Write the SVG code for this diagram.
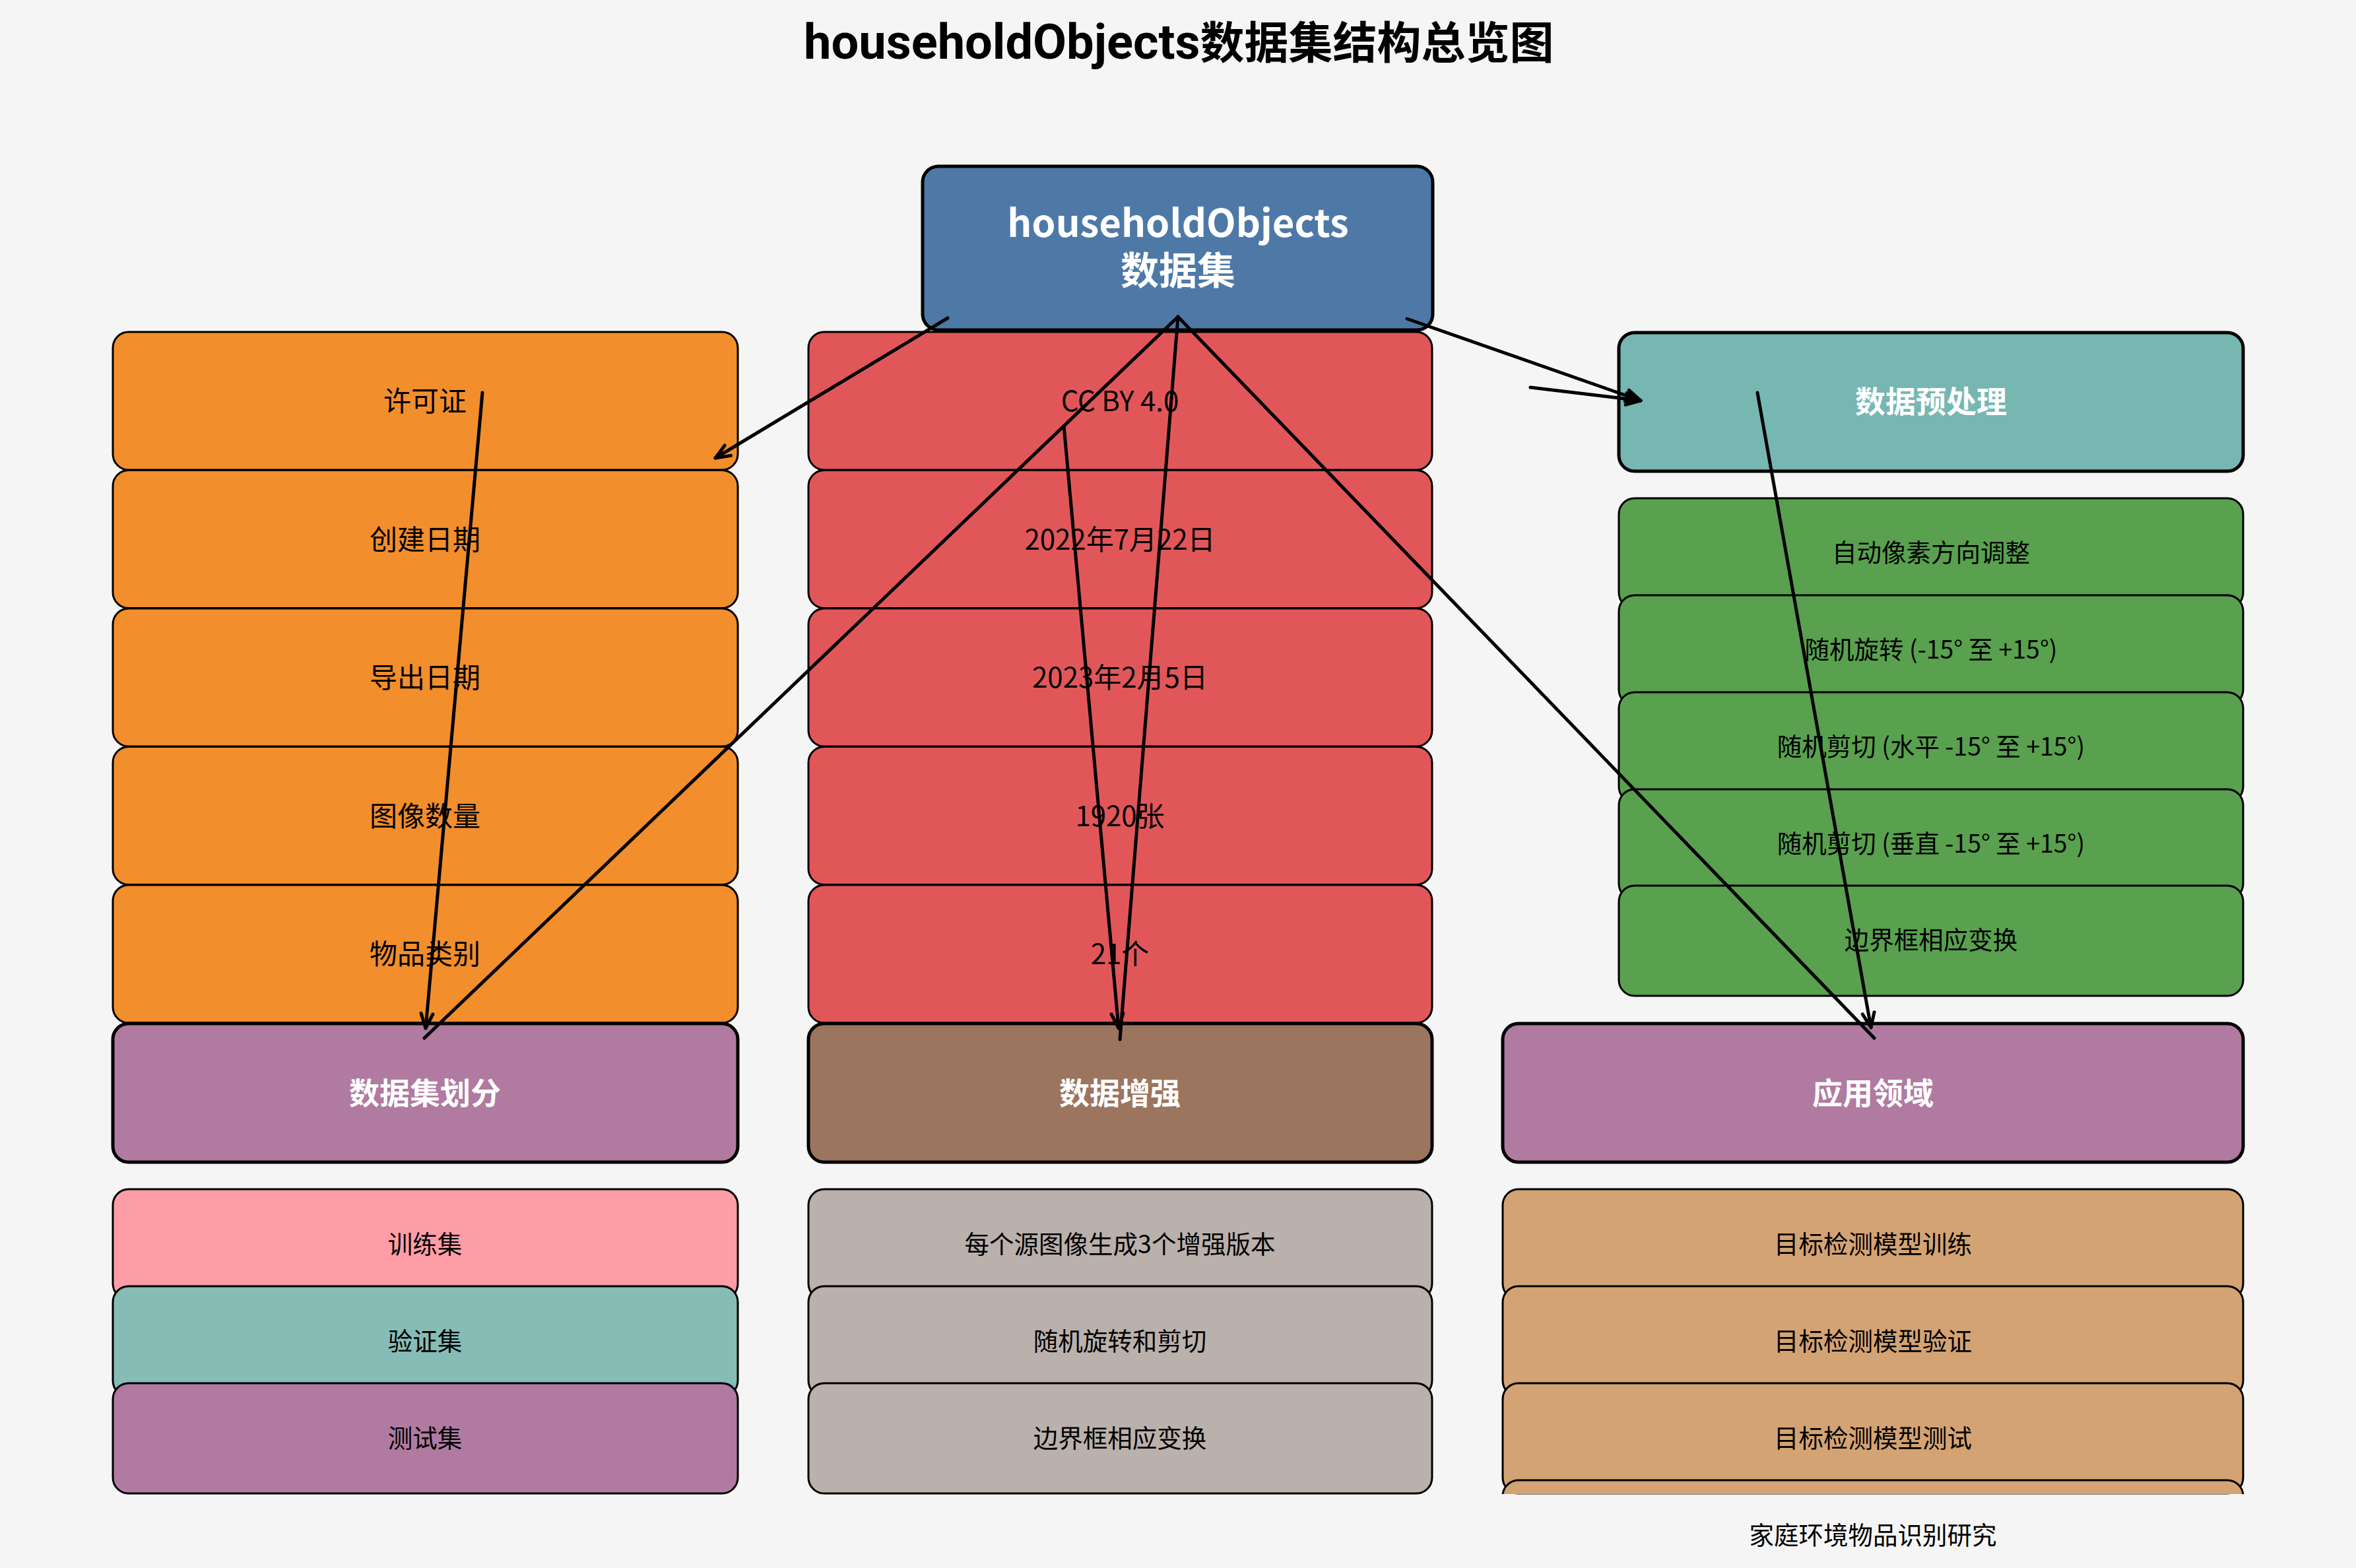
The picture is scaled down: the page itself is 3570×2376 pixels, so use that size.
<svg xmlns="http://www.w3.org/2000/svg" width="3570" height="2376" viewBox="0 0 3570 2376">
<style>
.b{stroke:#000;stroke-width:3}
.hb{stroke:#000;stroke-width:5}
.t{font-family:"Noto Sans CJK SC","Noto Sans",sans-serif;text-anchor:middle}
.r{font-size:42px;fill:#000}
.s{font-size:37.5px;fill:#000}
.h{font-size:46px;font-weight:bold;fill:#fff}
.c{stroke:#000;stroke-width:5;fill:none;stroke-linecap:round}
</style>
<defs>
<marker id="ah" markerUnits="userSpaceOnUse" markerWidth="40" markerHeight="40" viewBox="-30 -20 40 40" refX="0" refY="0" orient="auto">
<path d="M-22,-9 L0,0 L-22,9" fill="none" stroke="#000" stroke-width="5" stroke-linecap="round" stroke-linejoin="round"/>
</marker>
<clipPath id="ax"><rect x="0" y="0" width="3570" height="2264"/></clipPath>
</defs>
<rect width="3570" height="2376" fill="#f5f5f5"/>
<text x="1218" y="89" font-family="'Noto Sans CJK SC','Noto Sans',sans-serif" font-weight="bold" fill="#000"><tspan font-family="Roboto,'Noto Sans CJK SC',sans-serif" font-size="74">householdObjects</tspan><tspan font-size="67">数据集结构总览图</tspan></text>

<g id="license"><rect class="b" x="171" y="503" width="947" height="209" rx="24" fill="#f28e2b"/><text class="t r" x="644" y="623">许可证</text></g>
<g id="created"><rect class="b" x="171" y="712.5" width="947" height="209" rx="24" fill="#f28e2b"/><text class="t r" x="644" y="832.5">创建日期</text></g>
<g id="exported"><rect class="b" x="171" y="922" width="947" height="209" rx="24" fill="#f28e2b"/><text class="t r" x="644" y="1042">导出日期</text></g>
<g id="imgcount"><rect class="b" x="171" y="1131.5" width="947" height="209" rx="24" fill="#f28e2b"/><text class="t r" x="644" y="1251.5">图像数量</text></g>
<g id="classes"><rect class="b" x="171" y="1341" width="947" height="209" rx="24" fill="#f28e2b"/><text class="t r" x="644" y="1461">物品类别</text></g>

<g id="license-v"><rect class="b" x="1225" y="503" width="945" height="209" rx="24" fill="#e15759"/><text class="t r" x="1697" y="623">CC BY 4.0</text></g>
<g id="created-v"><rect class="b" x="1225" y="712.5" width="945" height="209" rx="24" fill="#e15759"/><text class="t r" x="1697" y="832.5">2022年7月22日</text></g>
<g id="exported-v"><rect class="b" x="1225" y="922" width="945" height="209" rx="24" fill="#e15759"/><text class="t r" x="1697" y="1042">2023年2月5日</text></g>
<g id="imgcount-v"><rect class="b" x="1225" y="1131.5" width="945" height="209" rx="24" fill="#e15759"/><text class="t r" x="1697" y="1251.5">1920张</text></g>
<g id="classes-v"><rect class="b" x="1225" y="1341" width="945" height="209" rx="24" fill="#e15759"/><text class="t r" x="1697" y="1461">21个</text></g>

<g id="root"><rect class="hb" x="1398" y="252" width="773" height="248" rx="24" fill="#4e79a7"/>
<text class="t" x="1785" y="359" font-size="58" font-weight="bold" fill="#fff">householdObjects</text>
<text class="t" x="1785" y="431" font-size="58" font-weight="bold" fill="#fff">数据集</text></g>

<g id="preprocess"><rect class="hb" x="2453" y="504" width="946" height="210" rx="24" fill="#76b7b2"/><text class="t h" x="2926" y="625">数据预处理</text></g>
<g id="pp1"><rect class="b" x="2453" y="755" width="946" height="167" rx="24" fill="#59a14f"/><text class="t s" x="2926" y="851">自动像素方向调整</text></g>
<g id="pp2"><rect class="b" x="2453" y="902" width="946" height="167" rx="24" fill="#59a14f"/><text class="t s" x="2926" y="998">随机旋转 (-15° 至 +15°)</text></g>
<g id="pp3"><rect class="b" x="2453" y="1049" width="946" height="167" rx="24" fill="#59a14f"/><text class="t s" x="2926" y="1145">随机剪切 (水平 -15° 至 +15°)</text></g>
<g id="pp4"><rect class="b" x="2453" y="1196" width="946" height="167" rx="24" fill="#59a14f"/><text class="t s" x="2926" y="1292">随机剪切 (垂直 -15° 至 +15°)</text></g>
<g id="pp5"><rect class="b" x="2453" y="1342" width="946" height="167" rx="24" fill="#59a14f"/><text class="t s" x="2926" y="1438">边界框相应变换</text></g>

<g id="split"><rect class="hb" x="171" y="1551" width="947" height="210" rx="24" fill="#b07aa1"/><text class="t h" x="644" y="1673">数据集划分</text></g>
<g id="train"><rect class="b" x="171" y="1802" width="947" height="167" rx="24" fill="#ff9da7"/><text class="t s" x="644" y="1899">训练集</text></g>
<g id="valid"><rect class="b" x="171" y="1949" width="947" height="167" rx="24" fill="#86bcb6"/><text class="t s" x="644" y="2046">验证集</text></g>
<g id="test"><rect class="b" x="171" y="2096" width="947" height="167" rx="24" fill="#b07aa1"/><text class="t s" x="644" y="2193">测试集</text></g>

<g id="augment"><rect class="hb" x="1225" y="1551" width="945" height="210" rx="24" fill="#9c755f"/><text class="t h" x="1697" y="1673">数据增强</text></g>
<g id="aug1"><rect class="b" x="1225" y="1802" width="945" height="167" rx="24" fill="#bab0ac"/><text class="t s" x="1697" y="1899">每个源图像生成3个增强版本</text></g>
<g id="aug2"><rect class="b" x="1225" y="1949" width="945" height="167" rx="24" fill="#bab0ac"/><text class="t s" x="1697" y="2046">随机旋转和剪切</text></g>
<g id="aug3"><rect class="b" x="1225" y="2096" width="945" height="167" rx="24" fill="#bab0ac"/><text class="t s" x="1697" y="2193">边界框相应变换</text></g>

<g id="apps"><rect class="hb" x="2277" y="1551" width="1122" height="210" rx="24" fill="#b07aa1"/><text class="t h" x="2838" y="1673">应用领域</text></g>
<g id="app1"><rect class="b" x="2277" y="1802" width="1122" height="167" rx="24" fill="#d4a373"/><text class="t s" x="2838" y="1899">目标检测模型训练</text></g>
<g id="app2"><rect class="b" x="2277" y="1949" width="1122" height="167" rx="24" fill="#d4a373"/><text class="t s" x="2838" y="2046">目标检测模型验证</text></g>
<g id="app3"><rect class="b" x="2277" y="2096" width="1122" height="167" rx="24" fill="#d4a373"/><text class="t s" x="2838" y="2193">目标检测模型测试</text></g>
<g id="app4"><rect class="b" x="2277" y="2243" width="1122" height="167" rx="24" fill="#d4a373" clip-path="url(#ax)"/><text class="t s" x="2838" y="2340">家庭环境物品识别研究</text></g>

<g id="connectors">
<line class="c" x1="1436" y1="482" x2="1084" y2="694" marker-end="url(#ah)"/>
<line class="c" x1="2132" y1="483" x2="2486" y2="607" marker-end="url(#ah)"/>
<line class="c" x1="2319" y1="587" x2="2486" y2="607" marker-end="url(#ah)"/>
<line class="c" x1="731" y1="595" x2="645" y2="1558" marker-end="url(#ah)"/>
<line class="c" x1="1612" y1="645" x2="1695" y2="1558" marker-end="url(#ah)"/>
<line class="c" x1="2663" y1="595" x2="2835" y2="1557" marker-end="url(#ah)"/>
<line class="c" x1="1785" y1="480" x2="643" y2="1573"/>
<line class="c" x1="1785" y1="480" x2="1697" y2="1575"/>
<line class="c" x1="1785" y1="480" x2="2840" y2="1573"/>
</g>
</svg>
